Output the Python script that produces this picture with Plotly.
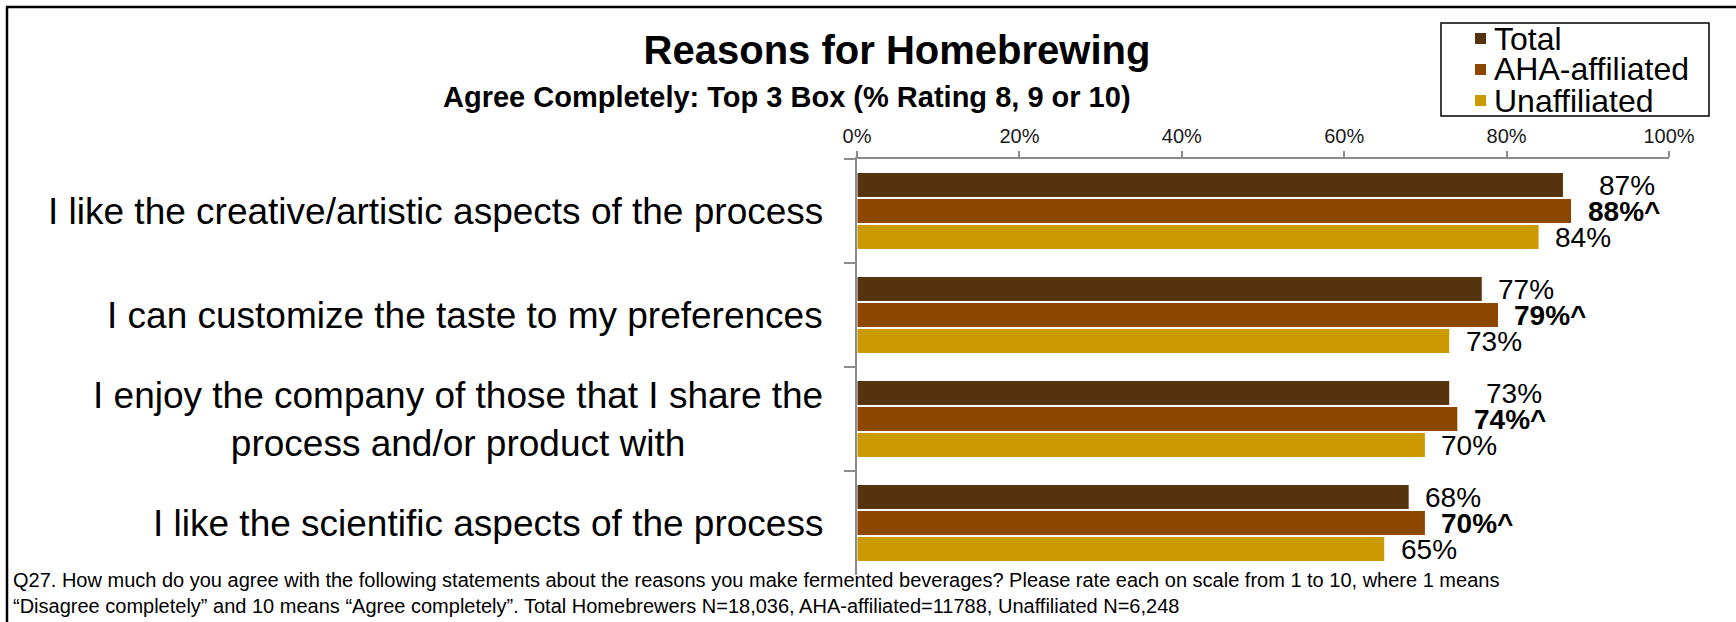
import plotly.graph_objects as go

# ---- data -------------------------------------------------------------
categories = [
    "I like the creative/artistic aspects of the process",
    "I can customize the taste to my preferences",
    "I enjoy the company of those that I share the<br>process and/or product with",
    "I like the scientific aspects of the process",
]
series_names = ["Total", "AHA-affiliated", "Unaffiliated"]
total_pct = [87, 77, 73, 68]
aha_pct = [88, 79, 74, 70]
unaffiliated_pct = [84, 73, 70, 65]
x_tick_vals = [0, 20, 40, 60, 80, 100]
x_tick_labels = ["0%", "20%", "40%", "60%", "80%", "100%"]

title_text = "Reasons for Homebrewing"
subtitle_text = "Agree Completely: Top 3 Box (% Rating 8, 9 or 10)"
footnote_text = (
    "Q27. How much do you agree with the following statements about the reasons you make "
    "fermented beverages? Please rate each on scale from 1 to 10, where 1 means<br>"
    "\u201cDisagree completely\u201d and 10 means \u201cAgree completely\u201d. "
    "Total Homebrewers N=18,036, AHA-affiliated=11788, Unaffiliated N=6,248"
)

# ---- styling ------------------------------------------------------------
colors = ["#54330D", "#8C4600", "#CC9A00"]
FONT = "Liberation Sans, Arial, sans-serif"
W, H = 1736, 622
L, R, T, B = 857, 1669, 159, 575          # plot-area edges in pixels
PW, PH = R - L, B - T
BARGAP = 0.25
AXIS_GREY = "#8C8C8C"


def px_x(x):
    """pixel column -> paper x"""
    return (x - L) / PW


def px_y(y):
    """pixel row (from top) -> paper y"""
    return (B - y) / PH


values = [total_pct, aha_pct, unaffiliated_pct]

fig = go.Figure()
for name, vals, col in zip(series_names, values, colors):
    fig.add_trace(go.Bar(
        y=categories, x=vals, name=name, orientation="h",
        marker=dict(color=col, line=dict(color="white", width=1)),
        showlegend=False,
    ))

annotations = []

# value labels to the right of each bar
band_px = PH / len(categories)
slot_px = band_px * (1 - BARGAP) / len(series_names)
for s, (vals, name) in enumerate(zip(values, series_names)):
    yshift = (1 - s) * slot_px
    for i, (cat, v) in enumerate(zip(categories, vals)):
        if name == "AHA-affiliated":
            txt = f"<b>{v}%^</b>"
        else:
            txt = f"{v}%"
        xshift = 14
        # push the Total label clear of the bold label just below it
        if name == "Total" and aha_pct[i] - v < 2:
            xshift = 34
        annotations.append(dict(
            x=v, y=cat, xref="x", yref="y", text=txt, showarrow=False,
            xanchor="left", yanchor="middle", xshift=xshift, yshift=yshift,
            font=dict(family=FONT, size=28, color="#000000"),
        ))

# category labels, right-aligned against the axis, lines centred
for cat in categories:
    annotations.append(dict(
        x=px_x(825), y=cat, xref="paper", yref="y", text=cat, showarrow=False,
        xanchor="right", yanchor="middle", align="center",
        font=dict(family=FONT, size=37, color="#000000"),
    ))

# subtitle
annotations.append(dict(
    x=px_x(787), y=px_y(97), xref="paper", yref="paper", text=f"<b>{subtitle_text}</b>",
    showarrow=False, xanchor="center", yanchor="middle",
    font=dict(family=FONT, size=29, color="#000000"),
))

# footnote
annotations.append(dict(
    x=px_x(11), y=px_y(593), xref="paper", yref="paper", text=footnote_text,
    showarrow=False, xanchor="left", yanchor="middle", align="left",
    font=dict(family=FONT, size=20, color="#000000"),
))

shapes = []
# outer frame (left and top edges)
shapes.append(dict(type="line", xref="paper", yref="paper",
                   x0=px_x(7), x1=px_x(7), y0=px_y(7), y1=px_y(660),
                   line=dict(color="#000000", width=2.5)))
shapes.append(dict(type="line", xref="paper", yref="paper",
                   x0=px_x(6), x1=px_x(1780), y0=px_y(7), y1=px_y(7),
                   line=dict(color="#000000", width=2.5)))

# boxed legend
LEG_X0, LEG_X1, LEG_Y0, LEG_Y1 = 1441, 1709, 23, 116
shapes.append(dict(type="rect", xref="paper", yref="paper",
                   x0=px_x(LEG_X0), x1=px_x(LEG_X1), y0=px_y(LEG_Y1), y1=px_y(LEG_Y0),
                   line=dict(color="#000000", width=1.5), fillcolor="white"))
row_px = (LEG_Y1 - LEG_Y0) / len(series_names)
for k, (name, col) in enumerate(zip(series_names, colors)):
    yc = LEG_Y0 + row_px * (k + 0.5)
    shapes.append(dict(type="rect", xref="paper", yref="paper",
                       x0=px_x(1475), x1=px_x(1486), y0=px_y(yc + 5.5), y1=px_y(yc - 5.5),
                       line=dict(width=0), fillcolor=col))
    annotations.append(dict(
        x=px_x(1492), y=px_y(yc), xref="paper", yref="paper", text=name,
        showarrow=False, xanchor="left", yanchor="middle",
        font=dict(family=FONT, size=32, color="#000000"),
    ))

fig.update_layout(
    width=W, height=H,
    margin=dict(l=L, r=W - R, t=T, b=H - B, pad=0),
    paper_bgcolor="white", plot_bgcolor="white",
    barmode="group", bargap=BARGAP, bargroupgap=0.04,
    title=dict(
        text=f"<b>{title_text}</b>", x=897 / W, xanchor="center",
        y=1 - 50 / H, yanchor="middle", xref="container", yref="container",
        font=dict(family=FONT, size=40, color="#000000"),
    ),
    xaxis=dict(
        side="top", range=[0, 100], tickmode="array",
        tickvals=x_tick_vals, ticktext=x_tick_labels,
        showgrid=False, zeroline=False, showline=True, linecolor=AXIS_GREY, linewidth=2,
        ticks="outside", ticklen=6, tickwidth=1.5, tickcolor=AXIS_GREY,
        tickfont=dict(family=FONT, size=20, color="#1A1A1A"), ticklabelstandoff=0,
    ),
    yaxis=dict(
        autorange="reversed", showgrid=False, zeroline=False,
        showline=True, linecolor=AXIS_GREY, linewidth=2,
        ticks="outside", tickson="boundaries", ticklen=11, tickwidth=1.5, tickcolor=AXIS_GREY,
        showticklabels=False,
    ),
    annotations=annotations,
    shapes=shapes,
    font=dict(family=FONT, color="#000000"),
)

fig.write_html("out.html")
